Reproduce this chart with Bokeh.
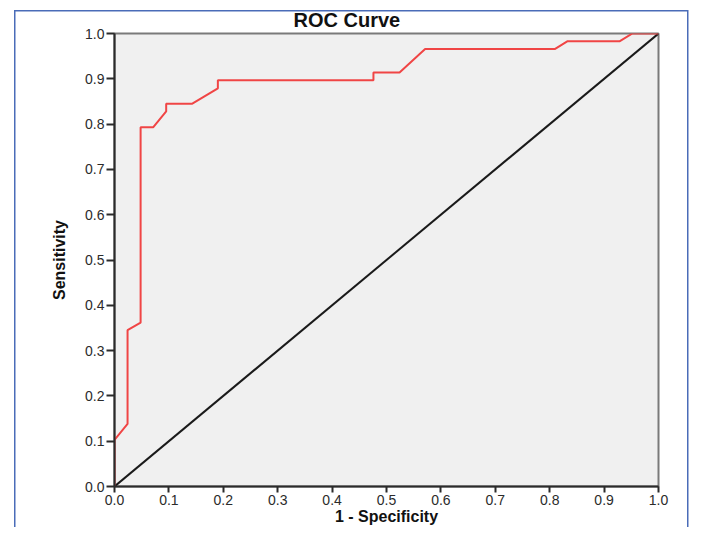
from bokeh.plotting import figure
from bokeh.models import FixedTicker, PrintfTickFormatter, Range1d
from bokeh.embed import file_html
from bokeh.resources import INLINE

# ROC curve points
fpr = [0.0, 0.0, 0.024, 0.024, 0.048, 0.048, 0.071, 0.095, 0.095, 0.143,
       0.190, 0.190, 0.476, 0.476, 0.524, 0.571, 0.810, 0.833, 0.929, 0.952, 1.0]
tpr = [0.0, 0.103, 0.138, 0.345, 0.362, 0.793, 0.793, 0.828, 0.845, 0.845,
       0.879, 0.897, 0.897, 0.914, 0.914, 0.966, 0.966, 0.983, 0.983, 1.0, 1.0]
ref_x = [0.0, 1.0]
ref_y = [0.0, 1.0]
ticks = [0.0, 0.1, 0.2, 0.3, 0.4, 0.5, 0.6, 0.7, 0.8, 0.9, 1.0]

FONT = "Liberation Sans"
BLUE = "#4a6cb8"

p = figure(width=689, height=527, output_backend="svg", toolbar_location=None,
           x_range=Range1d(0, 1), y_range=Range1d(0, 1),
           min_border_left=114, min_border_right=31, min_border_top=33,
           min_border_bottom=36)

# thin blue frame around the figure (drawn as the page element background)
p.border_fill_alpha = 0
p.styles = {
    "background-color": "white",
    "background-image": (f"linear-gradient({BLUE},{BLUE}), "
                         f"linear-gradient({BLUE},{BLUE}), "
                         f"linear-gradient({BLUE},{BLUE})"),
    "background-size": "1.5px 100%, 674px 1.5px, 1.5px 100%",
    "background-position": "14px 10px, 14px 10px, 687px 10px",
    "background-repeat": "no-repeat",
}

p.background_fill_color = "#f0f0f0"
p.outline_line_color = "#7a7a7a"
p.outline_line_width = 2
p.xgrid.visible = False
p.ygrid.visible = False

p.title.text = "ROC Curve"
p.title.text_font = FONT
p.title.text_font_style = "bold"
p.title.text_font_size = "20px"
p.title.align = "left"
p.title.offset = 179
p.title.standoff = 5
p.title.text_color = "#111111"

for ax in (p.xaxis[0], p.yaxis[0]):
    ax.ticker = FixedTicker(ticks=ticks)
    ax.formatter = PrintfTickFormatter(format="%.1f")
    ax.axis_line_color = "#2b2b2b"
    ax.axis_line_width = 2
    ax.major_tick_line_color = "#2b2b2b"
    ax.major_tick_line_width = 2
    ax.major_tick_in = 0
    ax.minor_tick_line_color = None
    ax.major_label_text_font = FONT
    ax.major_label_text_font_size = "14px"
    ax.major_label_text_color = "#2b2b2b"
    ax.axis_label_text_font = FONT
    ax.axis_label_text_font_style = "bold"
    ax.axis_label_text_color = "#111111"

p.xaxis[0].major_tick_out = 6
p.xaxis[0].major_label_standoff = 2
p.xaxis[0].axis_label = "1 - Specificity"
p.xaxis[0].axis_label_text_font_size = "16px"
p.xaxis[0].axis_label_standoff = 0

p.yaxis[0].major_tick_out = 8
p.yaxis[0].major_label_standoff = 2
p.yaxis[0].axis_label = "Sensitivity"
p.yaxis[0].axis_label_text_font_size = "16px"
p.yaxis[0].axis_label_standoff = 14

p.line(ref_x, ref_y, line_color="#1a1a1a", line_width=2)
p.line(fpr, tpr, line_color="#f04545", line_width=2)

open("out.html", "w").write(file_html(p, INLINE))
